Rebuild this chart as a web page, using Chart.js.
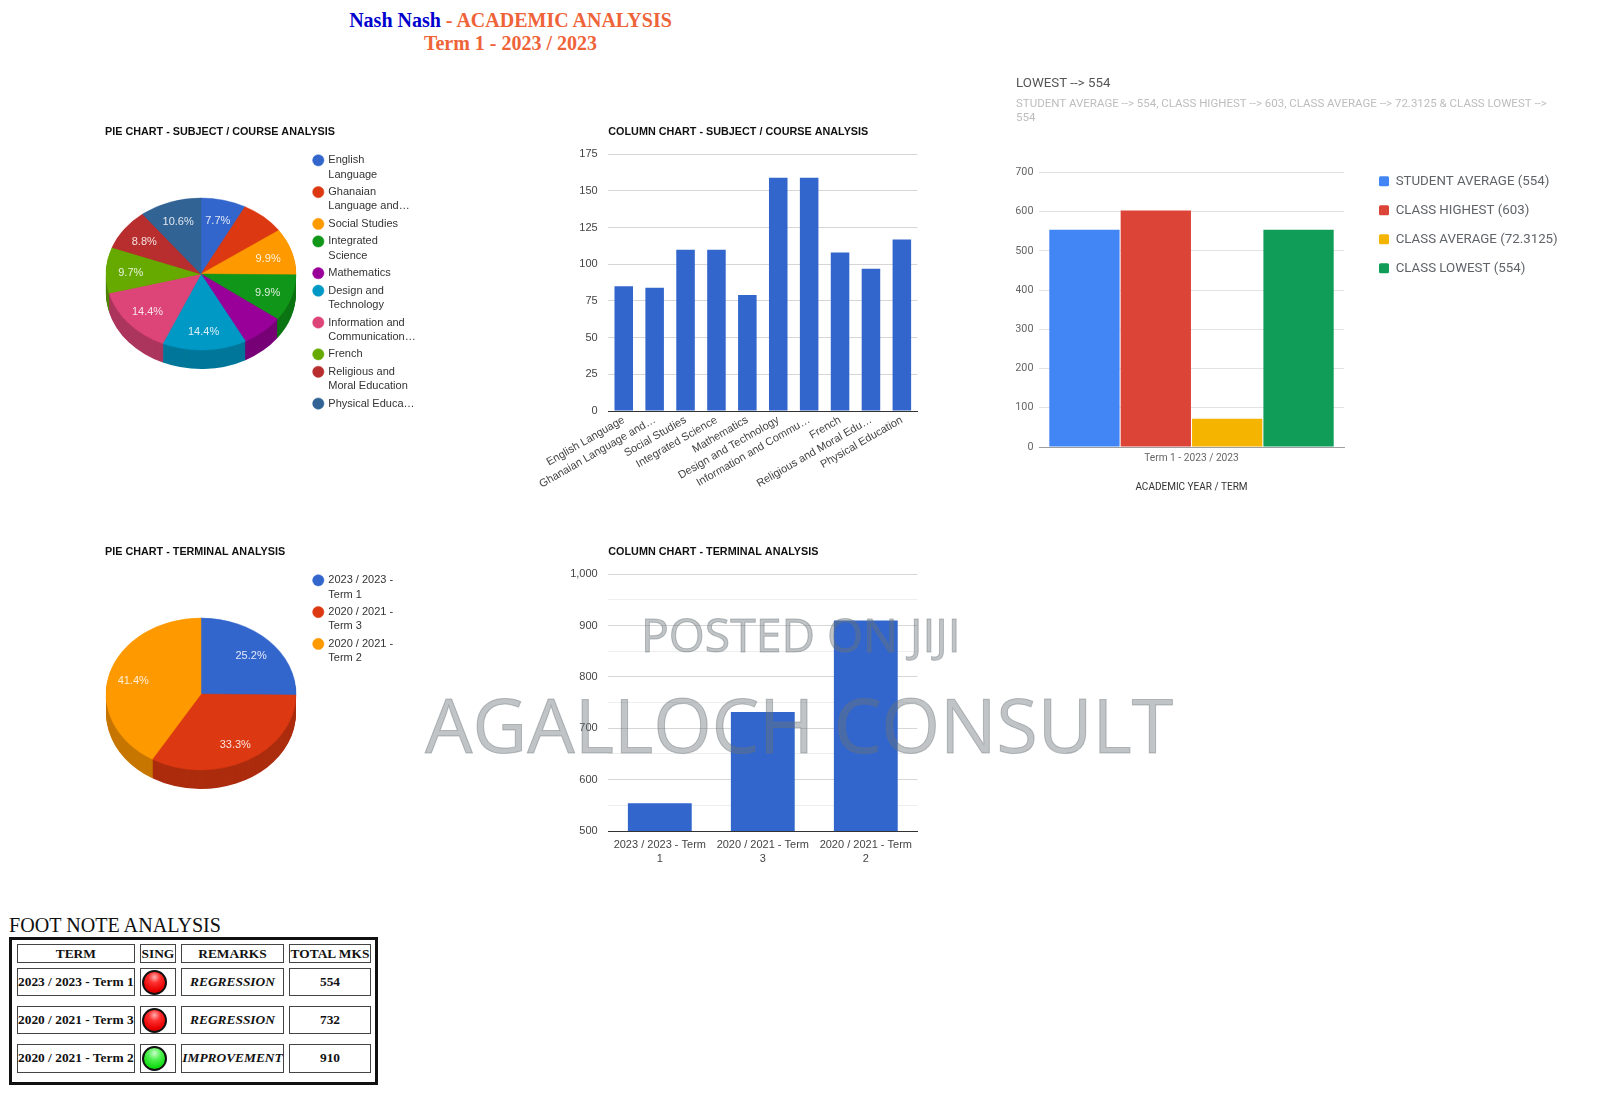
<!DOCTYPE html>
<html>
<head>
<meta charset="utf-8">
<title>Academic analysis</title>
<script src="https://cdn.jsdelivr.net/npm/chart.js@4/dist/chart.umd.min.js"></script>
<style>
  html, body { margin: 0; padding: 0; background: #fff; }
  body { position: relative; width: 1600px; height: 1096px; overflow: hidden; }
  canvas { position: absolute; }
  .abs { position: absolute; white-space: nowrap; }
  .head { left: 0; width: 1021px; text-align: center; font: bold 20px "Liberation Serif", serif; color: #ee6338; }
  .head b { color: #0000cd; }
  .mark { font-family: "Open Sans", sans-serif; color: rgba(105, 115, 120, 0.42); line-height: 1; -webkit-text-stroke: 1px rgba(105, 115, 120, 0.42); }
  .box { position: absolute; box-sizing: border-box; border: 1.5px solid #444; display: flex; align-items: center; justify-content: center;
         font: bold 13.4px "Liberation Serif", serif; color: #111; white-space: nowrap; }
  .lamp { width: 25px; height: 25px; border-radius: 50%; border: 2px solid #111; box-sizing: border-box; margin-right: 7px; }
</style>
</head>
<body>
<div class="abs head" style="top:9px"><b>Nash Nash</b> - ACADEMIC ANALYSIS</div>
<div class="abs head" style="top:32px">Term 1 - 2023 / 2023</div>

<canvas id="pieSubject" width="340" height="300" style="left:100px;top:124px"></canvas>
<canvas id="colSubject" width="410" height="400" style="left:520px;top:124px"></canvas>
<canvas id="compare" width="574" height="426" style="left:1016px;top:74px"></canvas>
<canvas id="pieTerm" width="340" height="300" style="left:100px;top:544px"></canvas>
<canvas id="colTerm" width="410" height="330" style="left:520px;top:544px"></canvas>

<div class="abs mark" style="left:641px;top:612px;font-size:46.3px">POSTED ON JIJI</div>
<div class="abs mark" style="left:425px;top:687px;font-size:75.2px">AGALLOCH CONSULT</div>

<div class="abs" style="left:9px;top:914px;font:20.1px 'Liberation Serif',serif;color:#111">FOOT NOTE ANALYSIS</div>
<div id="foot" style="position:absolute;left:9px;top:937px;width:369px;height:148px;box-sizing:border-box;border:3px solid #111"></div>

<script>
// subject / course data
const subjectNames = ['English Language', 'Ghanaian Language and\u2026', 'Social Studies', 'Integrated Science', 'Mathematics',
    'Design and Technology', 'Information and Commu\u2026', 'French', 'Religious and Moral Edu\u2026', 'Physical Education'];
const subjectLegend = [['English', 'Language'], ['Ghanaian', 'Language and\u2026'], ['Social Studies'], ['Integrated', 'Science'], ['Mathematics'],
    ['Design and', 'Technology'], ['Information and', 'Communication\u2026'], ['French'], ['Religious and', 'Moral Education'], ['Physical Educa\u2026']];
const subjectMarks = [85, 84, 110, 110, 79, 159, 159, 108, 97, 117];
const subjectColors = ['#3366cc', '#dc3912', '#ff9900', '#109618', '#990099', '#0099c6', '#dd4477', '#66aa00', '#b82e2e', '#316395'];

// terminal data
const termNames = [['2023 / 2023 - Term', '1'], ['2020 / 2021 - Term', '3'], ['2020 / 2021 - Term', '2']];
const termLegend = [['2023 / 2023 -', 'Term 1'], ['2020 / 2021 -', 'Term 3'], ['2020 / 2021 -', 'Term 2']];
const termTotals = [554, 732, 910];
const termColors = ['#3366cc', '#dc3912', '#ff9900'];

// class comparison
const compareCategory = ['Term 1 - 2023 / 2023'];
const compareNames = ['STUDENT AVERAGE (554)', 'CLASS HIGHEST (603)', 'CLASS AVERAGE (72.3125)', 'CLASS LOWEST (554)'];
const compareValues = [554, 603, 72.3125, 554];
const compareColors = ['#4285f4', '#db4437', '#f4b400', '#0f9d58'];

// foot note table
const footTerms = ['2023 / 2023 - Term 1', '2020 / 2021 - Term 3', '2020 / 2021 - Term 2'];
const footRemarks = ['REGRESSION', 'REGRESSION', 'IMPROVEMENT'];
const footLamps = ['red', 'red', 'green'];

const sans = '"Liberation Sans", Arial, sans-serif';
Chart.defaults.animation = false;
Chart.defaults.responsive = false;
Chart.defaults.font.family = sans;
Chart.defaults.plugins.tooltip.enabled = false;

function darken(hex, k) {
    const n = parseInt(hex.slice(1), 16);
    const c = [n >> 16, (n >> 8) & 255, n & 255].map(v => Math.round(v * k));
    return 'rgb(' + c.join(',') + ')';
}

// moves the legend to a fixed spot and stops long titles being squeezed into the chart width
const placeBoxes = {
    id: 'placeBoxes',
    afterLayout(chart, args, opts) {
        if (opts.left === undefined) return;
        const l = chart.legend;
        l.left = opts.left;
        l.right = opts.left + l.width;
        l.top = opts.top;
        l.bottom = opts.top + l.height + 20;
        chart.boxes.filter(b => b.position === 'top').forEach(b => {
            b.left += opts.titleDx || 0;
            b.right = b.left + chart.width;
        });
    }
};

// squashes the pie to an ellipse, adds the side wall and the percent labels
const pie3d = {
    id: 'pie3d',
    beforeDatasetsDraw(chart, args, opts) {
        if (!opts.squash) return;
        const ctx = chart.ctx;
        const arcs = chart.getDatasetMeta(0).data;
        const colors = chart.data.datasets[0].backgroundColor;
        ctx.save();
        ctx.translate(arcs[0].x, arcs[0].y);
        ctx.scale(1, opts.squash);
        ctx.translate(-arcs[0].x, -arcs[0].y);
        for (let d = opts.depth; d > 0; d--) {
            arcs.forEach((a, i) => {
                ctx.fillStyle = darken(colors[i], 0.78);
                ctx.beginPath();
                ctx.moveTo(a.x, a.y + d / opts.squash);
                ctx.arc(a.x, a.y + d / opts.squash, a.outerRadius, a.startAngle, a.endAngle);
                ctx.closePath();
                ctx.fill();
            });
        }
    },
    afterDatasetsDraw(chart, args, opts) {
        if (!opts.squash) return;
        const ctx = chart.ctx;
        ctx.restore();
        const arcs = chart.getDatasetMeta(0).data;
        const values = chart.data.datasets[0].data;
        const total = values.reduce((a, b) => a + b, 0);
        ctx.save();
        ctx.fillStyle = 'rgba(255,255,255,0.85)';
        ctx.font = '11px ' + sans;
        ctx.textAlign = 'center';
        ctx.textBaseline = 'middle';
        arcs.forEach((a, i) => {
            const pct = values[i] / total * 100;
            if (pct < opts.minPct) return;
            const mid = (a.startAngle + a.endAngle) / 2;
            const r = a.outerRadius * opts.labelR;
            ctx.fillText(pct.toFixed(1) + '%', a.x + Math.cos(mid) * r, a.y + Math.sin(mid) * r * opts.squash + 1.5);
        });
        ctx.restore();
    }
};

Chart.register(placeBoxes, pie3d);

function pieChart(id, title, labels, values, colors) {
    return new Chart(document.getElementById(id), {
        type: 'pie',
        data: {
            labels: labels,
            datasets: [{ data: values, backgroundColor: colors, borderColor: colors, borderWidth: 0.5, radius: 95 }]
        },
        options: {
            layout: { padding: { left: 6, right: 144, bottom: 14.2 } },
            plugins: {
                title: {
                    display: true, text: title, align: 'start', fullSize: false, color: '#111',
                    font: { size: 10.8, weight: 'bold', lineHeight: 1.222 }, padding: { top: 1, bottom: 0 }
                },
                legend: {
                    position: 'chartArea', align: 'start',
                    labels: {
                        usePointStyle: true, pointStyle: 'circle', boxWidth: 9, boxHeight: 8, padding: 3.2, color: '#333',
                        font: { size: 11, lineHeight: 1.3 }
                    }
                },
                placeBoxes: { left: 210.6, top: 27.6, titleDx: -1 },
                pie3d: { squash: 0.8, depth: 19, minPct: 7.6, labelR: 0.74 }
            }
        }
    });
}

function columnChart(id, title, labels, values, yOpts, xOpts, axisHeight, barWidth) {
    return new Chart(document.getElementById(id), {
        type: 'bar',
        data: {
            labels: labels,
            datasets: [{ data: values, backgroundColor: '#3366cc', categoryPercentage: 1, barPercentage: barWidth }]
        },
        options: {
            layout: { padding: { right: 12.7 } },
            plugins: {
                legend: { display: false },
                title: {
                    display: true, text: title, align: 'start', fullSize: false, color: '#111',
                    font: { size: 10.8, weight: 'bold', lineHeight: 1.222 }, padding: { top: 1, bottom: 16.1 }
                }
            },
            scales: {
                x: {
                    afterFit: s => { s.height = axisHeight; },
                    grid: { display: false, drawTicks: false },
                    border: { color: '#333' },
                    ticks: Object.assign({ color: '#444', autoSkip: false, font: { size: 11, lineHeight: 1.3 } }, xOpts)
                },
                y: Object.assign({
                    afterFit: s => { s.width = 88.3; },
                    border: { display: false }
                }, yOpts)
            }
        }
    });
}

pieChart('pieSubject', 'PIE CHART - SUBJECT / COURSE ANALYSIS', subjectLegend, subjectMarks, subjectColors);
pieChart('pieTerm', 'PIE CHART - TERMINAL ANALYSIS', termLegend, termTotals, termColors);

columnChart('colSubject', 'COLUMN CHART - SUBJECT / COURSE ANALYSIS', subjectNames, subjectMarks, {
    min: 0, max: 175,
    grid: { color: '#d6d6d6', drawTicks: false },
    ticks: { stepSize: 25, padding: 10.6, color: '#444', font: { size: 11 } }
}, { minRotation: 30, maxRotation: 30, padding: 2 }, 113, 0.6);

columnChart('colTerm', 'COLUMN CHART - TERMINAL ANALYSIS', termNames, termTotals, {
    min: 500, max: 1000,
    grid: { color: c => c.tick.value % 100 === 0 ? '#d6d6d6' : '#eeeeee', drawTicks: false },
    ticks: {
        stepSize: 50, padding: 10.6, color: '#444', font: { size: 11 },
        callback: v => v % 100 === 0 ? v.toLocaleString('en-US') : ''
    }
}, { maxRotation: 0, padding: 7 }, 43, 0.62);

new Chart(document.getElementById('compare'), {
    type: 'bar',
    data: {
        labels: compareCategory,
        datasets: compareNames.map((name, i) => ({
            label: name,
            data: [compareValues[i]],
            backgroundColor: compareColors[i],
            categoryPercentage: 0.936,
            barPercentage: 0.985
        }))
    },
    options: {
        layout: { padding: { right: 246 } },
        plugins: {
            title: {
                display: true, text: 'LOWEST --> 554', align: 'start', color: '#555',
                font: { family: 'Roboto', size: 13.3, weight: 'normal', lineHeight: 1.263 }, padding: { top: 1.5, bottom: 5 }
            },
            subtitle: {
                display: true,
                text: ['STUDENT AVERAGE --> 554, CLASS HIGHEST --> 603, CLASS AVERAGE --> 72.3125 & CLASS LOWEST -->', '554'],
                align: 'start', color: '#bdbdbd',
                font: { family: 'Roboto', size: 11.5, lineHeight: 1.18 }, padding: { top: 0, bottom: 48 }
            },
            legend: {
                position: 'chartArea', align: 'start',
                labels: {
                    boxWidth: 10, boxHeight: 10, padding: 15.7, color: '#5f6368', useBorderRadius: true, borderRadius: 1.5,
                    font: { family: 'Roboto', size: 13.3 }
                }
            },
            placeBoxes: { left: 347.3, top: 85 }
        },
        scales: {
            x: {
                afterFit: s => { s.height = 53; },
                grid: { display: false, drawTicks: false },
                border: { color: '#9e9e9e' },
                ticks: { color: '#666', padding: 5.5, font: { family: 'Roboto', size: 10.2 } },
                title: {
                    display: true, text: 'ACADEMIC YEAR / TERM', color: '#333',
                    font: { family: 'Roboto', size: 10 }, padding: { top: 0, bottom: 6.7 }
                }
            },
            y: {
                min: 0, max: 700,
                afterFit: s => { s.width = 23; },
                border: { display: false },
                grid: { color: '#e2e2e2', drawTicks: false },
                ticks: { stepSize: 100, padding: 5.5, color: '#666', font: { family: 'Roboto', size: 10.8 } }
            }
        }
    }
});

// foot note table, coordinates are relative to the outer frame
const foot = document.getElementById('foot');
const colLeft = [4.7, 128, 169, 277.3];
const colWidth = [118.3, 35.7, 103, 81.4];
const rowTop = [28, 66, 104.3];

function cell(x, y, w, h, html, style) {
    const d = document.createElement('div');
    d.className = 'box';
    d.style.cssText = 'left:' + x + 'px;top:' + y + 'px;width:' + w + 'px;height:' + h + 'px;' + (style || '');
    d.innerHTML = html;
    foot.appendChild(d);
}

['TERM', 'SING', 'REMARKS', 'TOTAL MKS'].forEach((t, c) => {
    cell(colLeft[c], 4, colWidth[c], 19, t, 'font-size:13.4px');
});
footTerms.forEach((term, r) => {
    const glow = footLamps[r] === 'red'
        ? 'radial-gradient(circle at 50% 25%, #ffb0b0 0%, #ff3030 30%, #e80000 70%, #b80000 100%)'
        : 'radial-gradient(circle at 50% 25%, #c8ffc8 0%, #50f050 35%, #10dc10 75%, #10a810 100%)';
    cell(colLeft[0], rowTop[r], colWidth[0], 28.4, term);
    cell(colLeft[1], rowTop[r], colWidth[1], 28.4, '<div class="lamp" style="background:' + glow + '"></div>');
    cell(colLeft[2], rowTop[r], colWidth[2], 28.4, '<i>' + footRemarks[r] + '</i>');
    cell(colLeft[3], rowTop[r], colWidth[3], 28.4, String(termTotals[r]));
});
</script>
</body>
</html>
